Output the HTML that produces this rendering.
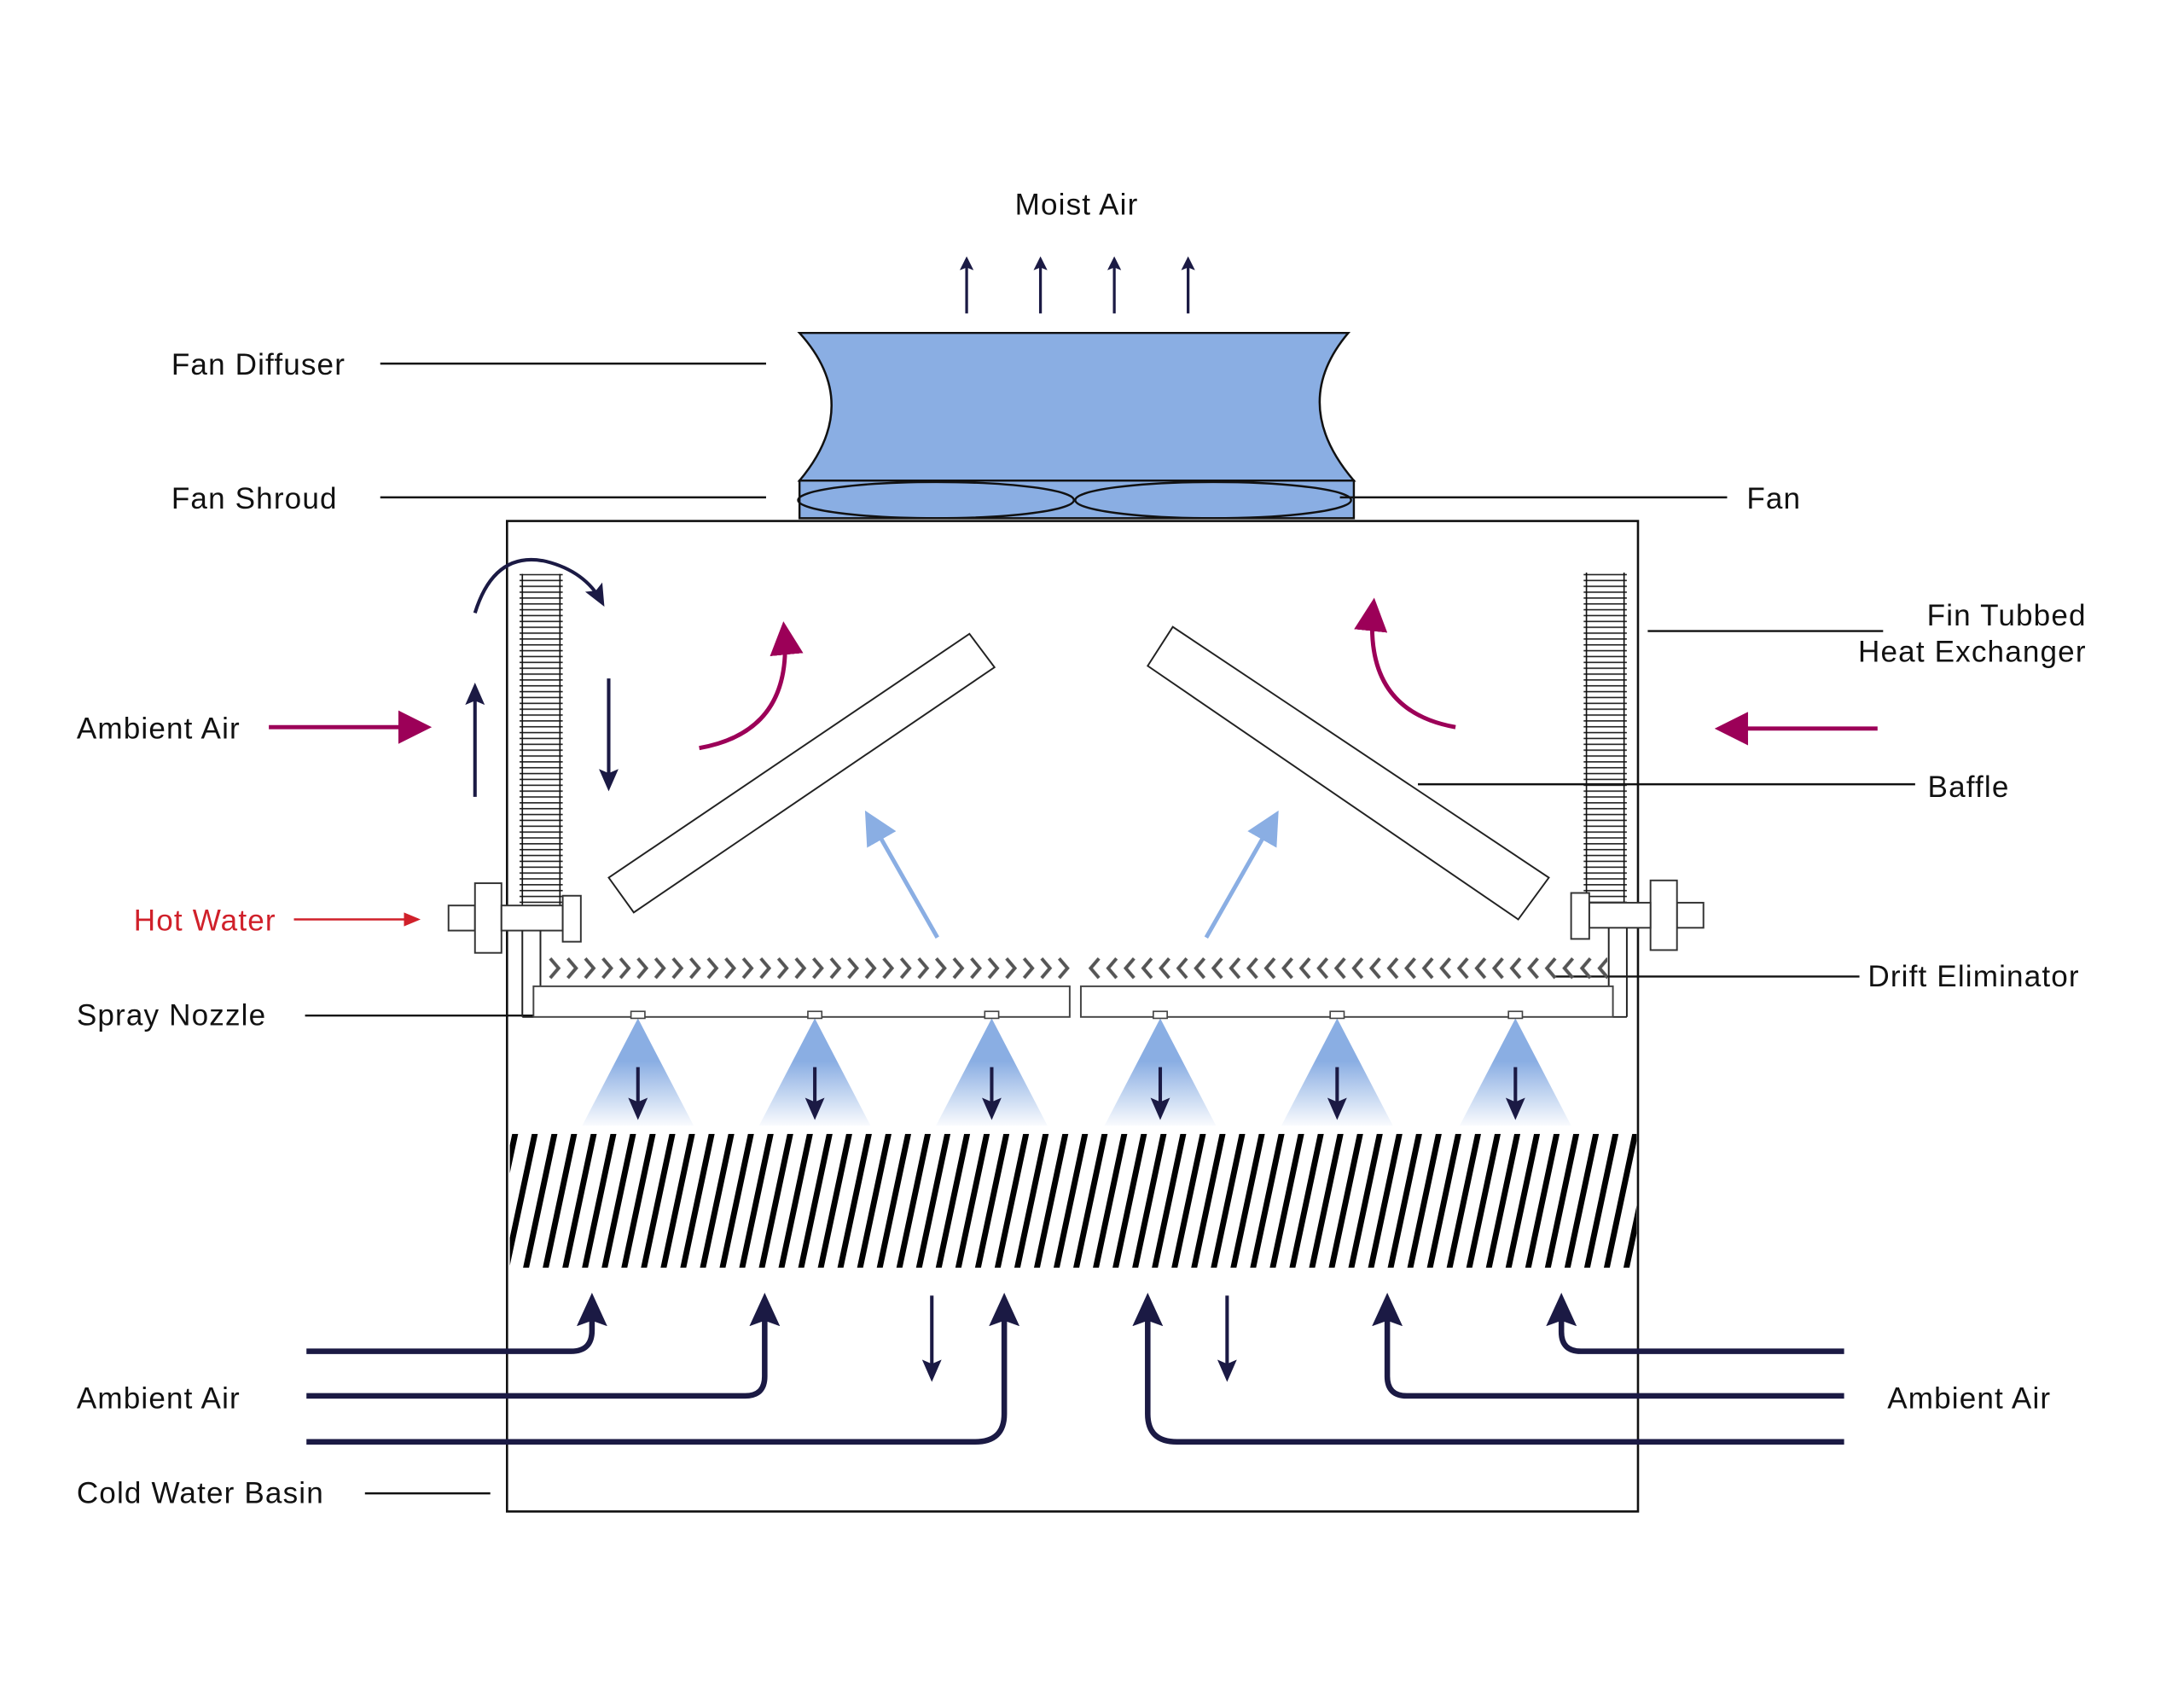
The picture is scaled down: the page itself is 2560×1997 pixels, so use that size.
<!DOCTYPE html>
<html><head><meta charset="utf-8"><style>
html,body{margin:0;padding:0;background:#fff;}
svg{display:block;}
text{font-family:"Liberation Sans",sans-serif;font-size:21.5px;letter-spacing:0.7px;fill:#111;}
</style></head><body>
<svg width="2560" height="1997" viewBox="0 0 1568 1223.2" xmlns="http://www.w3.org/2000/svg">
<defs>
<marker id="an" markerWidth="10" markerHeight="10" refX="8" refY="5" orient="auto" markerUnits="userSpaceOnUse" viewBox="0 0 10 10"><path d="M0,0 L10,5 L0,10 L2,5 z" fill="#1b1a44"/></marker>
<marker id="anb" markerWidth="16" markerHeight="16" refX="12" refY="8" orient="auto" markerUnits="userSpaceOnUse" viewBox="0 0 16 16"><path d="M0,1 L16,8 L0,15 L3,8 z" fill="#1b1a44"/></marker>
<marker id="anbig" markerWidth="24" markerHeight="22" refX="18" refY="11" orient="auto" markerUnits="userSpaceOnUse" viewBox="0 0 24 22"><path d="M0,0 L24,11 L0,22 L4,11 z" fill="#1b1a44"/></marker>
<marker id="am" markerWidth="24" markerHeight="24" refX="18" refY="12" orient="auto" markerUnits="userSpaceOnUse" viewBox="0 0 24 24"><path d="M0,0 L24,12 L0,24 z" fill="#9c0058"/></marker>
<marker id="ab" markerWidth="24" markerHeight="24" refX="18" refY="12" orient="auto" markerUnits="userSpaceOnUse" viewBox="0 0 24 24"><path d="M0,0 L24,12 L0,24 z" fill="#8aaee3"/></marker>
<marker id="ar" markerWidth="12" markerHeight="12" refX="10" refY="6" orient="auto" markerUnits="userSpaceOnUse" viewBox="0 0 12 12"><path d="M0,1 L12,6 L0,11 z" fill="#d0202a"/></marker>
<pattern id="hatch" patternUnits="userSpaceOnUse" width="13.8" height="300" patternTransform="rotate(12)"><rect x="4.5" y="0" width="4.2" height="300" fill="#000"/></pattern>
<pattern id="fin" patternUnits="userSpaceOnUse" width="40" height="4.2" y="412"><rect x="0" y="0" width="40" height="1" fill="#222"/></pattern>
<pattern id="chevR" patternUnits="userSpaceOnUse" width="12.6" height="20" x="392" y="686"><path d="M3,2 L9,9 L3,16" fill="none" stroke="#555" stroke-width="2.4"/></pattern>
<pattern id="chevL" patternUnits="userSpaceOnUse" width="12.6" height="20" x="780" y="686"><path d="M9,2 L3,9 L9,16" fill="none" stroke="#555" stroke-width="2.4"/></pattern>
<linearGradient id="cone" x1="0" y1="0" x2="0" y2="1"><stop offset="0" stop-color="#8aaee3"/><stop offset="0.4" stop-color="#8aaee3"/><stop offset="1" stop-color="#8aaee3" stop-opacity="0.05"/></linearGradient>
</defs>

<rect x="364" y="374" width="812" height="711" fill="none" stroke="#111" stroke-width="1.6"/>

<path d="M574,239 L968,239 Q925,290 972,345 L574,345 Q620,290 574,239 z" fill="#8aaee3" stroke="#111" stroke-width="1.5"/>
<rect x="574" y="345" width="398" height="27" fill="#8aaee3" stroke="#111" stroke-width="1.5"/>
<ellipse cx="672" cy="359" rx="99" ry="13" fill="none" stroke="#111" stroke-width="1.5"/>
<ellipse cx="871" cy="359" rx="99" ry="13" fill="none" stroke="#111" stroke-width="1.5"/>

<text x="773" y="154" text-anchor="middle">Moist Air</text>
<g stroke="#1b1a44" stroke-width="2" marker-end="url(#an)">
<line x1="694" y1="225" x2="694" y2="186"/><line x1="747" y1="225" x2="747" y2="186"/>
<line x1="800" y1="225" x2="800" y2="186"/><line x1="853" y1="225" x2="853" y2="186"/>
</g>

<g stroke="#111" stroke-width="1.5">
<line x1="273" y1="261" x2="550" y2="261"/>
<line x1="273" y1="357" x2="550" y2="357"/>
<line x1="962" y1="357" x2="1240" y2="357"/>
<line x1="1183" y1="453" x2="1352" y2="453"/>
<line x1="1018" y1="563" x2="1375" y2="563"/>
<line x1="1115" y1="701" x2="1335" y2="701"/>
<line x1="219" y1="729" x2="440" y2="729"/>
<line x1="262" y1="1072" x2="352" y2="1072"/>
</g>
<text x="123" y="269">Fan Diffuser</text>
<text x="123" y="365">Fan Shroud</text>
<text x="1254" y="365">Fan</text>
<text x="1498" y="449" text-anchor="end">Fin Tubbed</text>
<text x="1498" y="475" text-anchor="end">Heat Exchanger</text>
<text x="1384" y="572">Baffle</text>
<text x="1341" y="708">Drift Eliminator</text>
<text x="55" y="736">Spray Nozzle</text>
<text x="96" y="668" style="fill:#d0202a">Hot Water</text>
<line x1="211" y1="660" x2="300" y2="660" stroke="#d0202a" stroke-width="1.5" marker-end="url(#ar)"/>
<text x="55" y="530">Ambient Air</text>
<line x1="193" y1="522" x2="304" y2="522" stroke="#9c0058" stroke-width="3" marker-end="url(#am)"/>
<line x1="1348" y1="523" x2="1237" y2="523" stroke="#9c0058" stroke-width="3" marker-end="url(#am)"/>
<text x="55" y="1011">Ambient Air</text>
<text x="1355" y="1011">Ambient Air</text>
<text x="55" y="1079">Cold Water Basin</text>

<rect x="373" y="412" width="31" height="238" fill="url(#fin)"/>
<line x1="375" y1="412" x2="375" y2="650" stroke="#111" stroke-width="1"/>
<line x1="402" y1="412" x2="402" y2="650" stroke="#111" stroke-width="1"/>
<rect x="1137" y="411" width="31" height="237" fill="url(#fin)"/>
<line x1="1139" y1="411" x2="1139" y2="648" stroke="#111" stroke-width="1"/>
<line x1="1166" y1="411" x2="1166" y2="648" stroke="#111" stroke-width="1"/>

<g fill="#fff" stroke="#333" stroke-width="1.2">
<rect x="322" y="650" width="19" height="18"/>
<rect x="341" y="634" width="19" height="50"/>
<rect x="360" y="650" width="44" height="18"/>
<rect x="404" y="643" width="13" height="33"/>
<rect x="1204" y="648" width="19" height="18"/>
<rect x="1185" y="632" width="19" height="50"/>
<rect x="1141" y="648" width="44" height="18"/>
<rect x="1128" y="641" width="13" height="33"/>
</g>
<g stroke="#222" stroke-width="1.2">
<line x1="375" y1="668" x2="375" y2="730"/><line x1="388" y1="668" x2="388" y2="708"/>
<line x1="375" y1="730" x2="383" y2="730"/>
<line x1="1168" y1="666" x2="1168" y2="730"/><line x1="1155" y1="666" x2="1155" y2="708"/>
<line x1="1158" y1="730" x2="1168" y2="730"/>
</g>

<path d="M341,440 Q355,395 392,403 Q420,410 432,432" fill="none" stroke="#1b1a44" stroke-width="2.5" marker-end="url(#anb)"/>
<line x1="341" y1="572" x2="341" y2="494" stroke="#1b1a44" stroke-width="2.5" marker-end="url(#anb)"/>
<line x1="437" y1="487" x2="437" y2="564" stroke="#1b1a44" stroke-width="2.5" marker-end="url(#anb)"/>

<polygon points="437,630 696,455 714,479 455,655" fill="#fff" stroke="#222" stroke-width="1.2"/>
<polygon points="824,478 842,450 1112,630 1090,660" fill="#fff" stroke="#222" stroke-width="1.2"/>

<path d="M502,537 Q570,525 563,452" fill="none" stroke="#9c0058" stroke-width="3" marker-end="url(#am)"/>
<path d="M1045,522 Q978,510 986,435" fill="none" stroke="#9c0058" stroke-width="3" marker-end="url(#am)"/>
<line x1="673" y1="673" x2="624" y2="587" stroke="#8aaee3" stroke-width="3" marker-end="url(#ab)"/>
<line x1="866" y1="673" x2="915" y2="587" stroke="#8aaee3" stroke-width="3" marker-end="url(#ab)"/>

<rect x="392" y="686" width="378" height="20" fill="url(#chevR)"/>
<rect x="780" y="686" width="374" height="20" fill="url(#chevL)"/>

<rect x="383" y="708" width="385" height="22" fill="#fff" stroke="#444" stroke-width="1.2"/>
<rect x="776" y="708" width="382" height="22" fill="#fff" stroke="#444" stroke-width="1.2"/>

<g>
<polygon points="458,731 418,808 498,808" fill="url(#cone)"/>
<polygon points="585,731 545,808 625,808" fill="url(#cone)"/>
<polygon points="712,731 672,808 752,808" fill="url(#cone)"/>
<polygon points="833,731 793,808 873,808" fill="url(#cone)"/>
<polygon points="960,731 920,808 1000,808" fill="url(#cone)"/>
<polygon points="1088,731 1048,808 1128,808" fill="url(#cone)"/>
</g>
<g fill="#fff" stroke="#444" stroke-width="1">
<rect x="453" y="726" width="10" height="5"/><rect x="580" y="726" width="10" height="5"/><rect x="707" y="726" width="10" height="5"/>
<rect x="828" y="726" width="10" height="5"/><rect x="955" y="726" width="10" height="5"/><rect x="1083" y="726" width="10" height="5"/>
</g>
<g stroke="#1b1a44" stroke-width="2.5" marker-end="url(#anb)">
<line x1="458" y1="766" x2="458" y2="800"/><line x1="585" y1="766" x2="585" y2="800"/><line x1="712" y1="766" x2="712" y2="800"/>
<line x1="833" y1="766" x2="833" y2="800"/><line x1="960" y1="766" x2="960" y2="800"/><line x1="1088" y1="766" x2="1088" y2="800"/>
</g>

<rect x="366" y="814" width="809" height="96" fill="url(#hatch)"/>

<g fill="none" stroke="#1b1a44" stroke-width="4" marker-end="url(#anbig)">
<path d="M220,970 L410,970 Q425,970 425,955 L425,934"/>
<path d="M220,1002 L535,1002 Q549,1002 549,988 L549,934"/>
<path d="M220,1035 L700,1035 Q721,1035 721,1015 L721,934"/>
<path d="M1324,970 L1135,970 Q1121,970 1121,956 L1121,934"/>
<path d="M1324,1002 L1010,1002 Q996,1002 996,988 L996,934"/>
<path d="M1324,1035 L845,1035 Q824,1035 824,1015 L824,934"/>
</g>
<line x1="669" y1="930" x2="669" y2="988" stroke="#1b1a44" stroke-width="2.5" marker-end="url(#anb)"/>
<line x1="881" y1="930" x2="881" y2="988" stroke="#1b1a44" stroke-width="2.5" marker-end="url(#anb)"/>
</svg>
</body></html>
